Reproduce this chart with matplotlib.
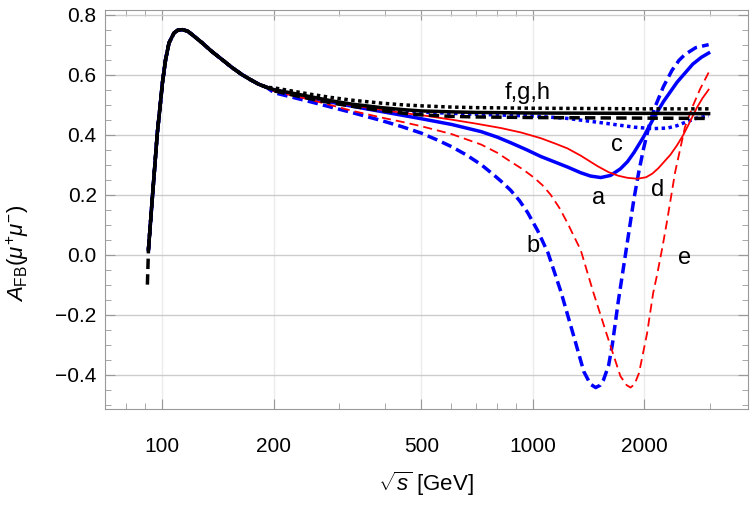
import matplotlib
matplotlib.use("Agg")
import matplotlib.pyplot as plt
from matplotlib.ticker import FixedLocator, NullFormatter, MultipleLocator

plt.rcParams['font.family'] = ['Liberation Sans', 'DejaVu Sans']
plt.rcParams['mathtext.fontset'] = 'custom'
plt.rcParams['mathtext.rm'] = 'Liberation Sans'
plt.rcParams['mathtext.it'] = 'Liberation Sans:italic'

# shared low-energy part (Z peak region), same for every curve
x_head = [91.7, 94.0, 96.9, 99.0, 100, 102, 104.2, 107.5, 110, 113.2, 117, 120.4, 128, 136, 145, 154, 164, 173, 182, 191]
y_head = [0.017, 0.194, 0.406, 0.517, 0.572, 0.65, 0.706, 0.739, 0.748, 0.75, 0.745, 0.733, 0.706, 0.677, 0.65, 0.624, 0.60, 0.583, 0.568, 0.558]

# f, g, h (black: solid, dotted, dashed)
x_f = [200, 225, 250, 285, 324, 390, 450, 500, 600, 700, 850, 1000, 2000, 2980]
y_f = [0.55, 0.538, 0.527, 0.513, 0.502, 0.49, 0.483, 0.479, 0.476, 0.474, 0.473, 0.472, 0.471, 0.47]
x_g = [200, 225, 250, 285, 324, 390, 450, 500, 600, 700, 850, 1000, 1500, 2000, 2980]
y_g = [0.556, 0.545, 0.535, 0.524, 0.515, 0.505, 0.499, 0.496, 0.492, 0.49, 0.489, 0.488, 0.487, 0.486, 0.486]
x_h = [200, 225, 250, 285, 324, 390, 450, 500, 600, 700, 850, 1000, 2000, 2980]
y_h = [0.546, 0.532, 0.52, 0.506, 0.495, 0.48, 0.471, 0.466, 0.461, 0.459, 0.458, 0.457, 0.455, 0.454]

# a: blue solid
x_a = [200, 250, 324, 390, 442, 500, 603, 725, 800, 871, 960, 1051, 1150, 1240, 1346, 1430, 1524,
       1620, 1722, 1800, 1873, 1990, 2111, 2250, 2450, 2700, 2850, 2980]
y_a = [0.548, 0.522, 0.495, 0.477, 0.465, 0.453, 0.434, 0.41, 0.392, 0.373, 0.35, 0.327, 0.308, 0.292, 0.273, 0.262, 0.257,
       0.264, 0.286, 0.31, 0.34, 0.393, 0.452, 0.51, 0.575, 0.635, 0.658, 0.672]

# b: blue dashed
x_b = [200, 250, 324, 390, 442, 500, 550, 603, 660, 725, 780, 820, 870, 920, 968, 1030, 1099, 1191, 1291, 1372, 1430,
       1477, 1520, 1550, 1600, 1638, 1700, 1777, 1873, 1930, 1990, 2068, 2132, 2250, 2375, 2480, 2572, 2750, 2980]
y_b = [0.54, 0.51, 0.474, 0.447, 0.427, 0.405, 0.383, 0.36, 0.333, 0.30, 0.268, 0.245, 0.215, 0.18, 0.14, 0.08, 0.005, -0.125, -0.275, -0.39, -0.432,
       -0.443, -0.435, -0.418, -0.37, -0.3, -0.155, 0.0, 0.185, 0.275, 0.355, 0.44, 0.49, 0.56, 0.615, 0.648, 0.667, 0.69, 0.70]

# c: blue dotted
x_c = [200, 250, 324, 390, 500, 700, 1000, 1220, 1524, 1873, 2100, 2308, 2450, 2600, 2770, 2980]
y_c = [0.55, 0.525, 0.498, 0.486, 0.475, 0.468, 0.462, 0.455, 0.44, 0.425, 0.42, 0.422, 0.43, 0.443, 0.455, 0.463]

# d: red solid
x_d = [200, 250, 324, 390, 442, 520, 603, 700, 820, 930, 1051, 1150, 1240, 1346, 1420, 1494, 1600, 1700, 1800, 1916, 2020, 2100,
       2180, 2250, 2350, 2450, 2540, 2617, 2700, 2770, 2870, 2980]
y_d = [0.55, 0.524, 0.498, 0.483, 0.473, 0.462, 0.45, 0.437, 0.422, 0.407, 0.388, 0.37, 0.354, 0.33, 0.312, 0.295, 0.275, 0.263, 0.256, 0.253, 0.258, 0.27,
       0.288, 0.307, 0.333, 0.365, 0.397, 0.428, 0.462, 0.49, 0.522, 0.55]

# e: red dashed
x_e = [200, 250, 324, 390, 442, 500, 603, 725, 800, 871, 940, 1006, 1060, 1116, 1180, 1240, 1346, 1455, 1591, 1722,
       1790, 1834, 1880, 1933, 2033, 2111, 2165, 2240, 2300, 2350, 2420, 2500, 2572, 2700, 2826, 2980]
y_e = [0.545, 0.517, 0.48, 0.457, 0.443, 0.428, 0.402, 0.367, 0.34, 0.31, 0.284, 0.257, 0.232, 0.2, 0.155, 0.105, 0.015, -0.125, -0.275, -0.405,
       -0.435, -0.443, -0.432, -0.395, -0.262, -0.128, -0.065, 0.03, 0.11, 0.18, 0.275, 0.355, 0.425, 0.495, 0.552, 0.607]

# extra low tail of the black dashed curve
x_h_start = [91.1]
y_h_start = [-0.10]

labels = ['f,g,h', 'c', 'a', 'd', 'b', 'e']
label_x = [968, 1690, 1500, 2165, 1000, 2572]
label_y = [0.54, 0.367, 0.19, 0.217, 0.03, -0.01]

x_ticks = [100, 200, 500, 1000, 2000]
y_ticks = [-0.4, -0.2, 0.0, 0.2, 0.4, 0.6, 0.8]

fig = plt.figure(figsize=(7.5, 5.07), dpi=100)
ax = fig.add_axes([0.14, 0.193, 0.857, 0.787])

blue_dash = (0, (3.0, 1.5))
red_dash = (0, (5.0, 2.8))
dots = (0, (1.0, 1.0))

ax.plot(x_head + x_a, y_head + y_a, color='#0000ff', lw=2.5)
ax.plot(x_head + x_b, y_head + y_b, color='#0000ff', lw=2.5, ls=blue_dash)
ax.plot(x_head + x_c, y_head + y_c, color='#0000ff', lw=2.5, ls=dots, dash_capstyle='butt')
ax.plot(x_head + x_d, y_head + y_d, color='#ff0000', lw=1.3)
ax.plot(x_head + x_e, y_head + y_e, color='#ff0000', lw=1.3, ls=red_dash)
ax.plot(x_head + x_f, y_head + y_f, color='black', lw=2.5)
ax.plot(x_head + x_g, y_head + y_g, color='black', lw=2.5, ls=dots, dash_capstyle='butt')
ax.plot(x_h_start + x_head + x_h, y_h_start + y_head + y_h, color='black', lw=2.5, ls=blue_dash)

for t, lx, ly in zip(labels, label_x, label_y):
    ax.text(lx, ly, t, fontsize=17, ha='center', va='center')

ax.set_xscale('log')
ax.set_xlim(70, 3800)
ax.set_ylim(-0.515, 0.815)

ax.xaxis.set_major_locator(FixedLocator(x_ticks))
ax.set_xticklabels([str(v) for v in x_ticks])
ax.xaxis.set_minor_locator(FixedLocator([70, 80, 90, 300, 400, 600, 700, 800, 900, 3000]))
ax.xaxis.set_minor_formatter(NullFormatter())
ax.yaxis.set_major_locator(FixedLocator(y_ticks))
ax.set_yticklabels(['\u2212' + f'{abs(v):.1f}' if v < 0 else f'{v:.1f}' for v in y_ticks])
ax.yaxis.set_minor_locator(MultipleLocator(0.05))

ax.grid(True, axis='y', which='major', color='#cccccc', lw=1)
ax.grid(True, axis='x', which='major', color='#ebebeb', lw=1)
ax.set_axisbelow(True)

for s in ax.spines.values():
    s.set_color('#999999')
ax.tick_params(which='both', direction='in', top=True, right=True, color='#999999')
ax.tick_params(which='major', length=7, labelsize=15, pad=6)
ax.tick_params(which='minor', length=4)
ax.tick_params(axis='x', which='major', pad=20)

ax.set_xlabel(r'$\sqrt{s}$ [GeV]', fontsize=16, labelpad=10)
ax.set_ylabel(r'$A_{\mathrm{FB}}(\mu^{+}\mu^{-})$', fontsize=16)
ax.yaxis.set_label_coords(-0.115, 0.39)

fig.savefig('out.png', dpi=100)
